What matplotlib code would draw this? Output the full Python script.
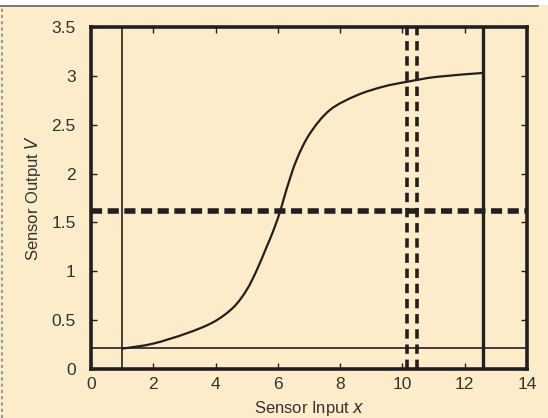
import matplotlib
matplotlib.use("Agg")
import matplotlib.pyplot as plt
from matplotlib.patches import Rectangle, PathPatch
from matplotlib.lines import Line2D
from matplotlib.path import Path
import numpy as np

# Data
curve_x = [1.0, 1.15, 2.0, 3.07, 3.93, 4.57, 5.0, 5.32, 5.64, 5.86, 6.09, 6.28,
           6.6, 7.03, 7.67, 8.53, 9.39, 10.16, 11.1, 12.6]
curve_y = [0.21, 0.215, 0.26, 0.365, 0.48, 0.63, 0.81, 1.01, 1.25, 1.42, 1.63, 1.84,
           2.14, 2.41, 2.65, 2.80, 2.89, 2.94, 2.99, 3.03]
vline_thin = 1.0
vline_thick = 12.6
hline_thin = 0.22
dash_v = [10.15, 10.47]
dash_h = 1.62
xticks = [0, 2, 4, 6, 8, 10, 12, 14]
yticks = [0, 0.5, 1, 1.5, 2, 2.5, 3, 3.5]
ytick_labels = ["0", "0.5", "1", "1.5", "2", "2.5", "3", "3.5"]

bg = "#FDECC9"
ink = "#231f20"
txt = "#333333"

plt.rcParams['font.family'] = ['Liberation Sans', 'DejaVu Sans']

fig = plt.figure(figsize=(5.48, 4.18), dpi=100)
fig.patch.set_facecolor(bg)
fig.add_artist(Rectangle((0, 1 - 5/418), 1, 5/418, transform=fig.transFigure,
                         facecolor="white", edgecolor="none", zorder=0))
fig.add_artist(Line2D([0, 538/548], [1 - 6/418, 1 - 6/418], transform=fig.transFigure,
                      color="#666666", lw=1.2))
fig.add_artist(Line2D([1.5/548, 1.5/548], [0, 1 - 6/418], transform=fig.transFigure,
                      color="#999999", lw=1.5, linestyle=(0, (1.5, 1.5))))

ax = fig.add_axes([91/548, 1 - 369/418, (527 - 91)/548, (369 - 27)/418])
ax.set_facecolor(bg)
ax.set_xlim(0, 14)
ax.set_ylim(0, 3.5)

# smooth curve through the read points (Catmull-Rom as cubic Bezier path)
px = np.asarray(curve_x, float)
py = np.asarray(curve_y, float)
pts = np.column_stack([px, py])
ext = np.vstack([pts[0], pts, pts[-1]])
verts = [tuple(pts[0])]
codes = [Path.MOVETO]
for i in range(len(pts) - 1):
    p0, p1, p2, p3 = ext[i], ext[i + 1], ext[i + 2], ext[i + 3]
    c1 = p1 + (p2 - p0) / 6.0
    c2 = p2 - (p3 - p1) / 6.0
    verts += [tuple(c1), tuple(c2), tuple(p2)]
    codes += [Path.CURVE4] * 3
ax.add_patch(PathPatch(Path(verts, codes), facecolor='none', edgecolor=ink,
                       lw=1.6, zorder=3))

ax.axvline(vline_thin, color=ink, lw=1.2)
ax.axhline(hline_thin, color=ink, lw=1.2)
ax.axvline(vline_thick, color=ink, lw=2.4)
for xv in dash_v:
    ax.axvline(xv, color=ink, lw=2.6, linestyle=(0, (2.6, 1.6)), dash_capstyle='butt')
ax.axhline(dash_h, color=ink, lw=4.0, linestyle=(0, (2.0, 1.0)), dash_capstyle='butt')

for s in ax.spines.values():
    s.set_linewidth(2.6)
    s.set_color(ink)

ax.set_xticks(xticks)
ax.set_xticklabels([str(t) for t in xticks])
ax.set_yticks(yticks)
ax.set_yticklabels(ytick_labels)
ax.tick_params(direction='in', length=4, width=1, colors=ink, labelcolor=txt,
               labelsize=12.5, top=True, right=True)
ax.tick_params(axis='y', pad=11)
ax.tick_params(axis='x', pad=6)

ax.set_xlabel("Sensor Input $\\it{x}$", fontsize=12, color=txt, labelpad=5)
ax.set_ylabel("Sensor Output $\\it{V}$", fontsize=12, color=txt, labelpad=6)

fig.savefig("out.png", dpi=100, facecolor=bg)
